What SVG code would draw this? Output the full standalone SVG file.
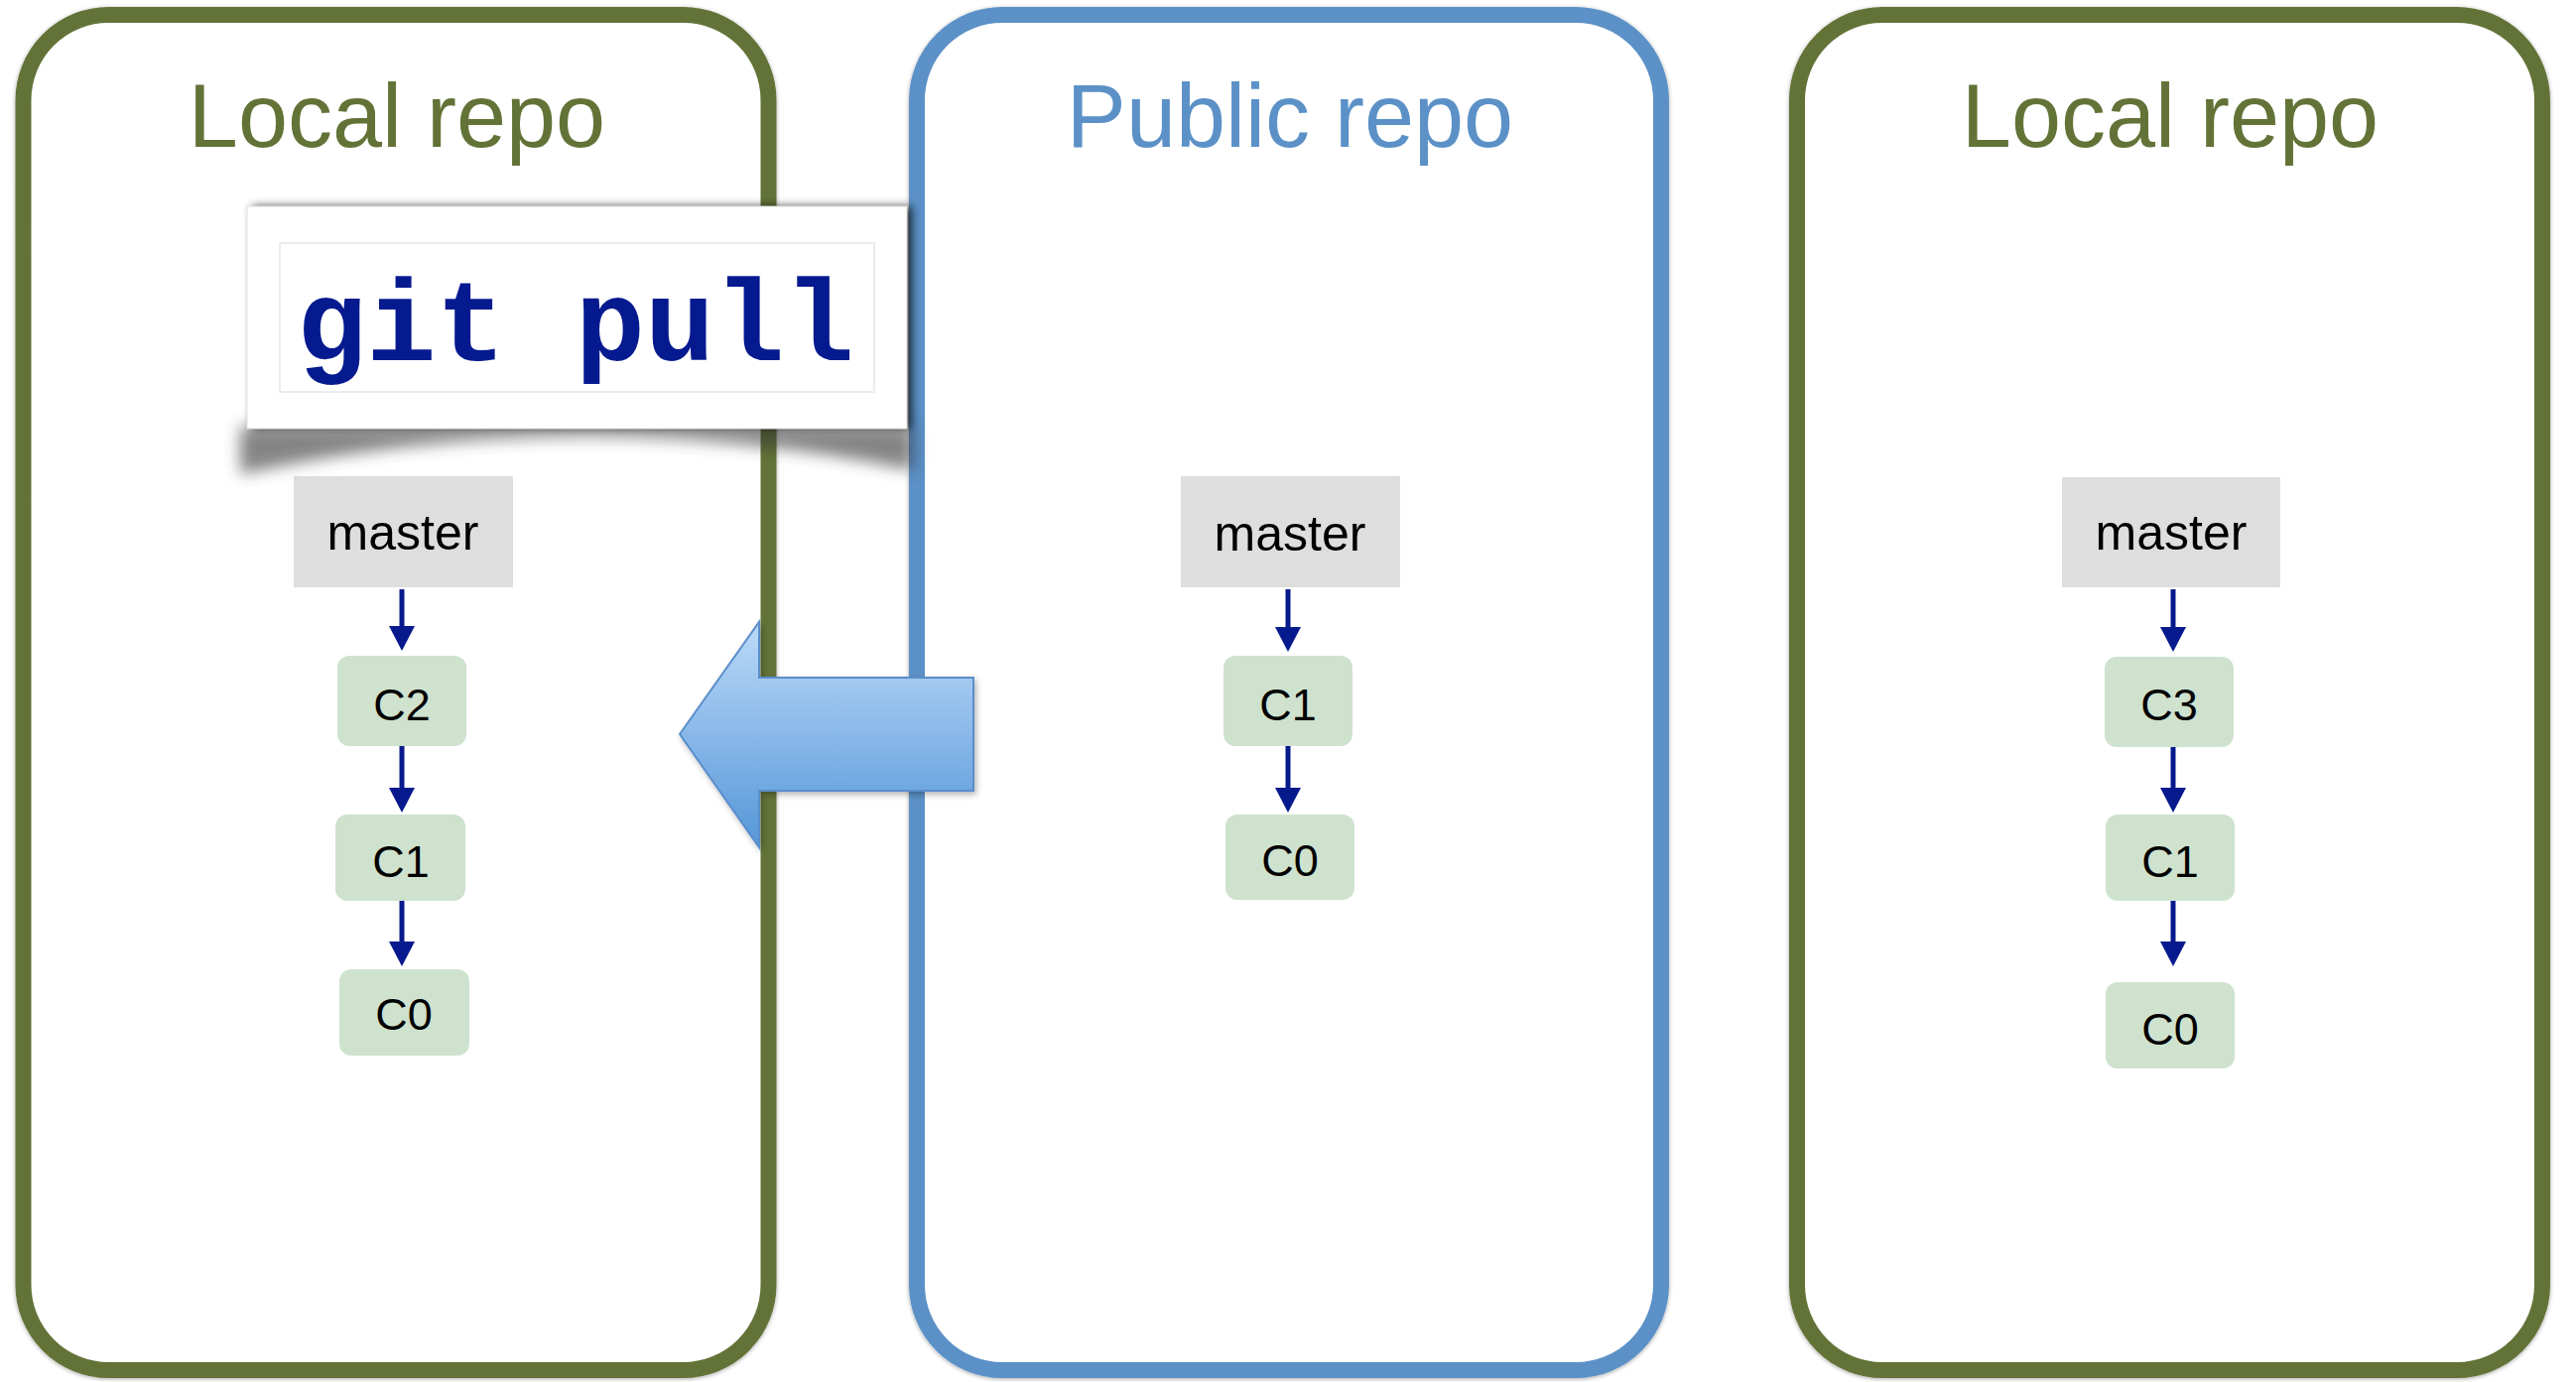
<svg xmlns="http://www.w3.org/2000/svg" width="2596" height="1393" viewBox="0 0 2596 1393">
  <defs>
    <style>
      .repo { fill: #ffffff; stroke-width: 16; filter: url(#halo); }
      .local { stroke: #637337; }
      .public { stroke: #5b91c7; }
      .title { font-family: "Liberation Sans", Arial, sans-serif; font-size: 90px; text-anchor: middle; }
      .title.local { fill: #637337; stroke: none; }
      .title.public { fill: #5b91c7; stroke: none; }
      .branch rect { fill: #dedede; }
      .commit rect { fill: #cee2ce; }
      .label { font-family: "Liberation Sans", Arial, sans-serif; fill: #000000; text-anchor: middle; }
      .branch .label { font-size: 50px; }
      .commit .label { font-size: 45px; }
      .edge { stroke: #071a8d; stroke-width: 5; fill: none; marker-end: url(#head); }
      .cmd { font-family: "Liberation Mono", "Courier New", monospace; font-weight: bold; font-size: 117px; fill: #061a8f; }
    </style>
    <marker id="head" viewBox="0 0 25 26" refX="5" refY="13" markerWidth="25" markerHeight="26" markerUnits="userSpaceOnUse" orient="auto">
      <path d="M0,0 L25,13 L0,26 Z" fill="#071a8d"/>
    </marker>
    <filter id="halo" x="-5%" y="-5%" width="110%" height="110%">
      <feGaussianBlur in="SourceAlpha" stdDeviation="2"/>
      <feOffset dx="0" dy="1" result="b"/>
      <feComponentTransfer><feFuncA type="linear" slope="0.35"/></feComponentTransfer>
      <feMerge><feMergeNode/><feMergeNode in="SourceGraphic"/></feMerge>
    </filter>
    <filter id="boxshadow" x="-5%" y="-10%" width="112%" height="125%">
      <feGaussianBlur in="SourceAlpha" stdDeviation="5"/>
      <feOffset dx="5" dy="0"/>
      <feComponentTransfer><feFuncA type="linear" slope="0.75"/></feComponentTransfer>
      <feMerge><feMergeNode/><feMergeNode in="SourceGraphic"/></feMerge>
    </filter>
    <filter id="curlblur" x="-10%" y="-60%" width="120%" height="220%">
      <feGaussianBlur stdDeviation="8"/>
    </filter>
    <filter id="arrowshadow" x="-10%" y="-10%" width="125%" height="130%">
      <feGaussianBlur in="SourceAlpha" stdDeviation="3"/>
      <feOffset dx="2" dy="3"/>
      <feComponentTransfer><feFuncA type="linear" slope="0.3"/></feComponentTransfer>
      <feMerge><feMergeNode/><feMergeNode in="SourceGraphic"/></feMerge>
    </filter>
    <linearGradient id="arrowfill" x1="0" y1="0" x2="0" y2="1">
      <stop offset="0" stop-color="#bcdaf9"/>
      <stop offset="1" stop-color="#5596d8"/>
    </linearGradient>
  </defs>

  <rect x="0" y="0" width="2596" height="1393" fill="#ffffff"/>

  <!-- Repository containers -->
  <g id="repo-local-left">
    <rect class="repo local" x="23.5" y="15" width="751" height="1366" rx="86" ry="86"/>
    <text class="title local" x="400" y="148">Local repo</text>
  </g>
  <g id="repo-public">
    <rect class="repo public" x="924" y="15" width="750" height="1366" rx="86" ry="86"/>
    <text class="title public" x="1300" y="148">Public repo</text>
  </g>
  <g id="repo-local-right">
    <rect class="repo local" x="1811" y="15" width="751" height="1366" rx="86" ry="86"/>
    <text class="title local" x="2187" y="148">Local repo</text>
  </g>

  <!-- Connectors -->
  <g id="connectors">
    <line class="edge" x1="405" y1="594" x2="405" y2="636"/>
    <line class="edge" x1="405" y1="752" x2="405" y2="799"/>
    <line class="edge" x1="405" y1="908" x2="405" y2="954"/>
    <line class="edge" x1="1298" y1="594" x2="1298" y2="637"/>
    <line class="edge" x1="1298" y1="752" x2="1298" y2="799"/>
    <line class="edge" x1="2190" y1="594" x2="2190" y2="637"/>
    <line class="edge" x1="2190" y1="753" x2="2190" y2="799"/>
    <line class="edge" x1="2190" y1="908" x2="2190" y2="954"/>
  </g>

  <!-- Left local repo nodes -->
  <g id="left-master" class="branch">
    <rect x="296" y="480" width="221" height="112"/>
    <text class="label" x="406" y="554">master</text>
  </g>
  <g id="left-C2" class="commit">
    <rect x="340" y="661" width="130" height="91" rx="12"/>
    <text class="label" x="405" y="726">C2</text>
  </g>
  <g id="left-C1" class="commit">
    <rect x="338" y="821" width="131" height="87" rx="12"/>
    <text class="label" x="404" y="884">C1</text>
  </g>
  <g id="left-C0" class="commit">
    <rect x="342" y="977" width="131" height="87" rx="12"/>
    <text class="label" x="407" y="1038">C0</text>
  </g>

  <!-- Public repo nodes -->
  <g id="public-master" class="branch">
    <rect x="1190" y="480" width="221" height="112"/>
    <text class="label" x="1300" y="555">master</text>
  </g>
  <g id="public-C1" class="commit">
    <rect x="1233" y="661" width="130" height="91" rx="12"/>
    <text class="label" x="1298" y="726">C1</text>
  </g>
  <g id="public-C0" class="commit">
    <rect x="1235" y="821" width="130" height="86" rx="12"/>
    <text class="label" x="1300" y="883">C0</text>
  </g>

  <!-- Right local repo nodes -->
  <g id="right-master" class="branch">
    <rect x="2078" y="481" width="220" height="111"/>
    <text class="label" x="2188" y="554">master</text>
  </g>
  <g id="right-C3" class="commit">
    <rect x="2121" y="662" width="130" height="91" rx="12"/>
    <text class="label" x="2186" y="726">C3</text>
  </g>
  <g id="right-C1" class="commit">
    <rect x="2122" y="821" width="130" height="87" rx="12"/>
    <text class="label" x="2187" y="884">C1</text>
  </g>
  <g id="right-C0" class="commit">
    <rect x="2122" y="990" width="130" height="87" rx="12"/>
    <text class="label" x="2187" y="1053">C0</text>
  </g>

  <!-- git pull callout -->
  <g id="git-pull">
    <path d="M242,430 L920,430 L920,474 Q580,404 242,478 Z" fill="#333333" opacity="0.6" filter="url(#curlblur)"/>
    <rect x="249" y="208" width="665" height="224" fill="#ffffff" filter="url(#boxshadow)"/>
    <rect x="249" y="208" width="665" height="224" fill="none" stroke="#e2e2e2" stroke-width="1"/>
    <rect x="282" y="245" width="599" height="150" fill="none" stroke="#ececec" stroke-width="2"/>
    <text class="cmd" x="299" y="363">git pull</text>
  </g>

  <!-- Pull direction arrow -->
  <g id="pull-arrow">
    <path d="M685,740 L765,627 L765,683 L981,683 L981,797 L765,797 L765,854 Z" fill="url(#arrowfill)" stroke="#5a8ecb" stroke-width="2" stroke-linejoin="miter" filter="url(#arrowshadow)"/>
  </g>
</svg>
